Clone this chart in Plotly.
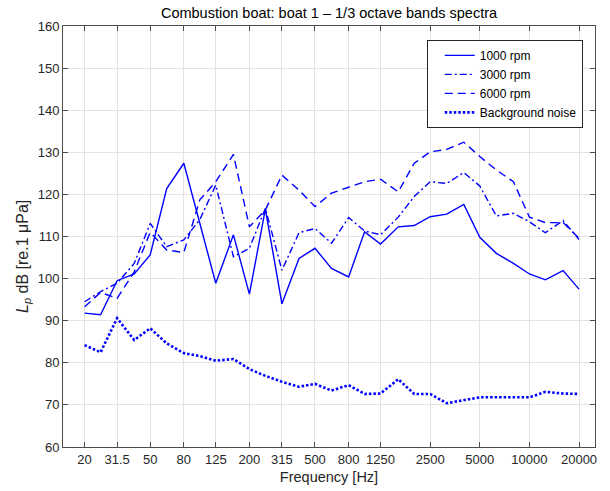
import plotly.graph_objects as go

freqs = [20, 25, 31.5, 40, 50, 63, 80, 100, 125, 160, 200, 250, 315, 400, 500, 630,
         800, 1000, 1250, 1600, 2000, 2500, 3150, 4000, 5000, 6300, 8000, 10000,
         12500, 16000, 20000]

rpm1000 = [91.8, 91.4, 99.5, 101.1, 105.6, 121.4, 127.4, 113.0, 98.9, 110.4, 96.3,
           116.5, 94.0, 104.8, 107.2, 102.4, 100.4, 111.1, 108.2, 112.3, 112.6, 114.7,
           115.3, 117.6, 109.8, 106.0, 103.6, 101.1, 99.7, 101.9, 97.5]
rpm3000 = [94.5, 96.9, 98.9, 103.6, 113.1, 107.6, 109.2, 114.0, 122.2, 105.2, 107.2,
           116.7, 102.0, 110.9, 111.9, 108.4, 114.5, 111.3, 110.4, 114.6, 119.5, 123.0,
           122.6, 125.2, 122.0, 114.9, 115.5, 113.5, 110.9, 113.8, 109.3]
rpm6000 = [93.3, 96.7, 95.3, 101.6, 111.0, 106.8, 106.2, 118.7, 123.0, 129.5, 112.3,
           116.3, 124.6, 121.0, 117.1, 120.3, 121.7, 123.0, 123.6, 120.6, 127.4, 130.1,
           130.7, 132.4, 129.0, 125.8, 123.0, 114.6, 113.3, 113.3, 109.6]
background = [84.2, 82.5, 90.6, 85.4, 88.2, 84.6, 82.3, 81.6, 80.5, 80.9, 78.5, 76.9,
              75.5, 74.3, 75.0, 73.4, 74.7, 72.6, 72.7, 76.1, 72.6, 72.6, 70.4, 71.2,
              71.8, 71.8, 71.8, 71.8, 73.1, 72.7, 72.6]

tick_vals = [20, 31.5, 50, 80, 125, 200, 315, 500, 800, 1250, 2500, 5000, 10000, 20000]
tick_text = ["20", "31.5", "50", "80", "125", "200", "315", "500", "800", "1250",
             "2500", "5000", "10000", "20000"]
y_ticks = list(range(60, 161, 10))

BLUE = "#0000ff"
FONT = "Liberation Sans, Arial, sans-serif"
AX = "#4d4d4d"

fig = go.Figure()
fig.add_trace(go.Scatter(x=freqs, y=rpm1000, mode="lines", name="1000 rpm",
                         line=dict(color=BLUE, width=1.4)))
fig.add_trace(go.Scatter(x=freqs, y=rpm3000, mode="lines", name="3000 rpm",
                         line=dict(color=BLUE, width=1.4, dash="7px,3px,2px,3px")))
fig.add_trace(go.Scatter(x=freqs, y=rpm6000, mode="lines", name="6000 rpm",
                         line=dict(color=BLUE, width=1.4, dash="8px,5px")))
fig.add_trace(go.Scatter(x=freqs, y=background, mode="lines", name="Background noise",
                         line=dict(color=BLUE, width=2.6, dash="2.5px,2px")))

fig.update_layout(
    width=610, height=491,
    margin=dict(l=63, r=15, t=26, b=44),
    paper_bgcolor="white", plot_bgcolor="white",
    font=dict(family=FONT, size=13, color="#262626"),
    title=dict(text="Combustion boat: boat 1 \u2013 1/3 octave bands spectra",
               x=(63 + 595) / 2 / 610, xanchor="center",
               y=1 - 12.5 / 491, yanchor="middle",
               font=dict(size=14.5, color="#000000")),
    showlegend=True,
    legend=dict(x=0.977, y=0.967, xanchor="right", yanchor="top",
                bgcolor="white", bordercolor="#262626", borderwidth=1,
                font=dict(size=12, color="#000000"), tracegroupgap=0,
                indentation=12),
    annotations=[dict(text="<i>L</i><sub><i>p</i></sub> dB [re.1 \u03bcPa]",
                      xref="paper", yref="paper", x=(23 - 63) / 532,
                      y=1 - (257 - 26) / 421, xanchor="center", yanchor="middle",
                      textangle=-90, showarrow=False,
                      font=dict(size=16, color="#262626"))],
)
fig.update_xaxes(type="log", range=[1.170, 4.398], automargin=False,
                 tickmode="array", tickvals=tick_vals, ticktext=tick_text,
                 ticks="inside", ticklen=5, tickcolor=AX,
                 showline=True, linecolor=AX, linewidth=1, mirror="allticks",
                 showgrid=True, gridcolor="#e3e3e3", gridwidth=1, zeroline=False,
                 title=dict(text="Frequency [Hz]", font=dict(size=14.5), standoff=6),
                 tickfont=dict(size=13))
fig.update_yaxes(range=[60, 160], automargin=False,
                 tickmode="array", tickvals=y_ticks,
                 ticks="inside", ticklen=5, tickcolor=AX,
                 showline=True, linecolor=AX, linewidth=1, mirror="allticks",
                 showgrid=True, gridcolor="#e3e3e3", gridwidth=1, zeroline=False,
                 tickfont=dict(size=13))

fig.write_html("out.html", config={"displayModeBar": False},
               post_script="document.body.style.margin='0';"
                           "document.body.style.overflow='hidden';")
